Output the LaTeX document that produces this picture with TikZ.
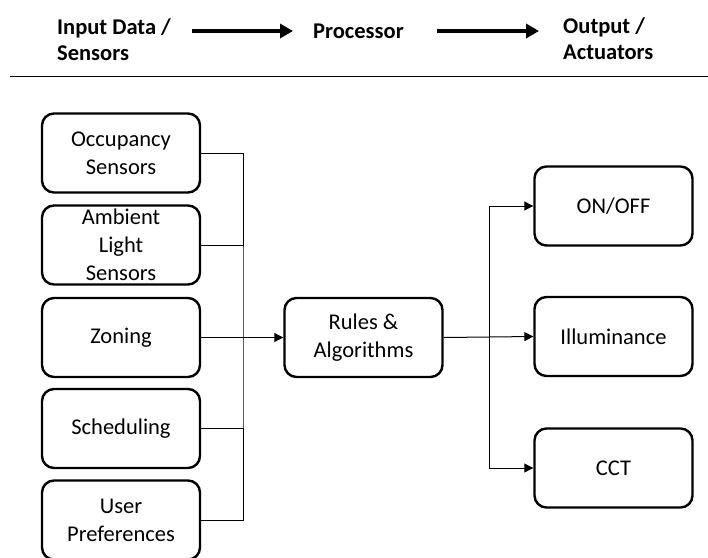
\documentclass[tikz,border=0pt]{standalone}
\usepackage{fontspec}
\setmainfont{Carlito}
\usetikzlibrary{arrows.meta}
\begin{document}
\begin{tikzpicture}[x=1pt,y=-1pt,
  box/.style={draw=black,line width=2.4pt,rounded corners=12pt,minimum width=158pt,minimum height=79pt,align=center,inner sep=2pt,font=\fontsize{22.5}{28}\selectfont},
  hdr/.style={inner sep=0pt,anchor=west,align=left,font=\fontsize{22.5}{26}\selectfont\bfseries},
  conn/.style={line width=1pt,draw=black},
  tip/.style={-{Triangle[length=9pt,width=9pt]}},
  bigarrow/.style={line width=4.2pt,-{Triangle[length=13pt,width=14pt]}}
]
\useasboundingbox (0,0) rectangle (708,557);
% header
\node[hdr] (inp) at (57,39.5) {Input Data /\\Sensors};
\node[hdr] (proc) at (313,31) {Processor};
\node[hdr] (outp) at (563,38.5) {Output /\\Actuators};
\coordinate (h1s) at (192,31);
\coordinate (h1e) at (293,31);
\coordinate (h2s) at (437,31);
\coordinate (h2e) at (539,31);
\draw[bigarrow] (h1s) -- (h1e);
\draw[bigarrow] (h2s) -- (h2e);
\coordinate (rl) at (10,76.5);
\coordinate (rr) at (708,76.5);
\draw[line width=1.6pt] (rl) -- (rr);
% inputs
\node[box] (occ) at (121,153) {Occupancy\\Sensors};
\node[box] (amb) at (121,245) {Ambient\\Light\\Sensors};
\node[box] (zon) at (121,337.5) {Zoning};
\node[box] (sch) at (121,428.5) {Scheduling};
\node[box] (usr) at (121,520) {User\\Preferences};
% processor
\node[box] (rul) at (363.5,337.5) {Rules \&\\Algorithms};
% outputs
\node[box] (onf) at (613.5,206) {ON/OFF};
\node[box] (ill) at (613.5,336.5) {Illuminance};
\node[box] (cct) at (613.5,468) {CCT};
% connectors
\coordinate (jin) at (243,337.5);
\coordinate (jout) at (489,337.5);
\draw[conn] (occ.east) -| (jin) |- (usr.east);
\draw[conn] (amb.east) -- (amb.east -| jin);
\draw[conn] (sch.east) -- (sch.east -| jin);
\draw[conn,tip] (zon.east) -- (rul.west);
\draw[conn,tip] (rul.east) -- (ill.west);
\draw[conn,tip] (jout) |- (onf.west);
\draw[conn,tip] (jout) |- (cct.west);
\end{tikzpicture}
\end{document}
